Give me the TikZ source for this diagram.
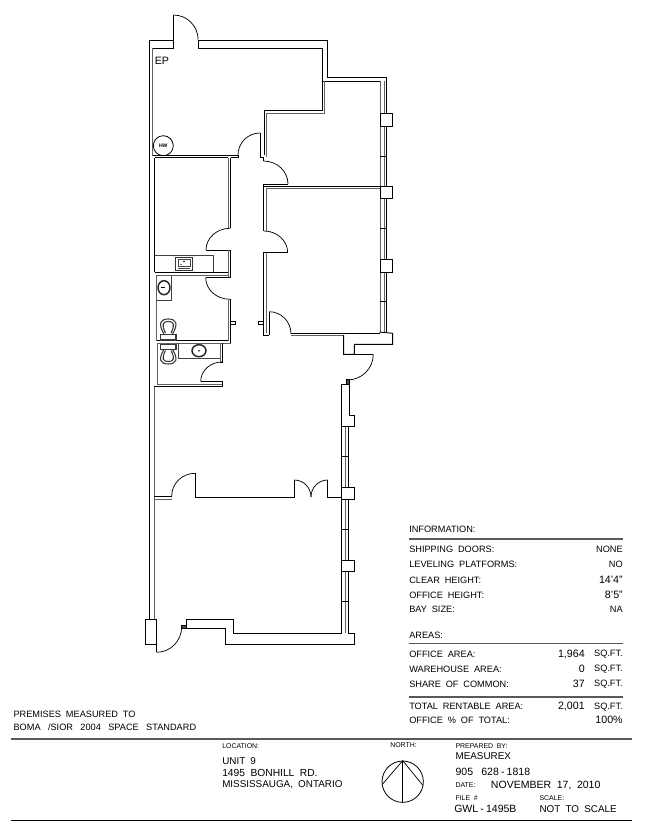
\documentclass[tikz,border=0pt]{standalone}
\usepackage{fontspec}
\setmainfont[WordSpace=1.9]{Liberation Sans}
\tikzset{
    wall/.style={line width=0.7pt},
    graywall/.style={line width=0.75pt, color=black!62},
    door/.style={line width=0.55pt},
    fixture/.style={line width=0.6pt, color=black!75},
    bowl/.style={line width=0.8pt, color=black!78},
    basin/.style={line width=1.1pt, color=black!85},
    pier/.style={line width=0.6pt, fill=white},
    rule/.style={line width=0.8pt, color=black!65},
    tag/.style={inner sep=0pt, anchor=west, font=\fontsize{6.9}{8}\selectfont},
    val/.style={inner sep=0pt, anchor=east, font=\fontsize{6.9}{8}\selectfont},
    digits/.style={inner sep=0pt, anchor=east, font=\fontsize{8}{9}\selectfont},
    big/.style={inner sep=0pt, anchor=west, font=\fontsize{7.4}{9}\selectfont},
    bigger/.style={inner sep=0pt, anchor=west, font=\fontsize{7.9}{9}\selectfont},
    tiny/.style={inner sep=0pt, anchor=west, font=\fontsize{5.2}{6}\selectfont},
}
\begin{document}
\begin{tikzpicture}[x=0.75pt, y=-0.75pt]
    \useasboundingbox (0,0) rectangle (646,829);

    % outer shell
    \draw[wall] (173.5,48) -- (173.5,40) -- (149.3,40) -- (149.3,619);
    \draw[wall] (173.5,15) -- (173.5,48);
    \draw[wall] (198.3,48) -- (198.3,40) -- (327,40) -- (327,77) -- (386.7,77) -- (386.7,82);
    \draw[wall] (152.7,48) -- (173.5,48);
    \draw[wall] (198.3,48) -- (322.5,48) -- (322.5,110.5) -- (264,110.5) -- (264,155);
    \draw[graywall] (152.7,48) -- (152.7,155.5);
    \draw[wall] (322.5,81) -- (380,81);
    \draw[graywall] (324.5,81) -- (324.5,113) -- (266,113) -- (266,157);
    \draw[door] (173.5,15) arc[start angle=-90, end angle=0, radius=24.6];
    \node[inner sep=0pt, anchor=west, font=\fontsize{8}{9}\selectfont] (ep) at (154.5,61) {EP};
    \node[draw, circle, minimum size=15pt, inner sep=0pt, line width=0.6pt, font=\fontsize{3.8}{4}\bfseries\selectfont] (hw) at (163.3,145.7) {HW};

    % east windows, upper part
    \draw[graywall] (380,81) -- (380,333);
    \draw[graywall] (384,81) -- (384,332);
    \draw[wall] (386.7,81) -- (386.7,332);
    \draw[wall] (380,156) -- (386.7,156);
    \draw[wall] (380,228.5) -- (386.7,228.5);
    \draw[wall] (380,301) -- (386.7,301);
    \draw[pier] (380,113.3) rectangle (392.7,126);
    \draw[pier] (380,186) rectangle (392.7,198.3);
    \draw[pier] (380,259.5) rectangle (392.7,272);

    % corridor walls and doors
    \draw[wall] (153,155.3) -- (238,155.3);
    \draw[wall] (154.7,157.7) -- (228.3,157.7);
    \draw[wall] (230.7,157.7) -- (238,157.7) -- (238,155.3);
    \draw[wall] (260,133) -- (260,157) -- (264,157);
    \draw[door] (238,155) arc[start angle=180, end angle=270, radius=22];
    \draw[wall] (263.5,157) -- (263.5,161);
    \draw[door] (263.5,161) arc[start angle=-90, end angle=0, x radius=24.5, y radius=23];
    \draw[wall] (288,184) -- (263.5,184) -- (263.5,231);
    \draw[wall] (264,186) -- (380,186);
    \draw[graywall] (266,188.3) -- (380,188.3);
    \draw[graywall] (266,188.3) -- (266,231);
    \draw[door] (264,231) arc[start angle=-90, end angle=0, x radius=23.7, y radius=21.7];
    \draw[wall] (287.7,252.7) -- (263.3,252.7) -- (263.3,335) -- (269.3,335);
    \draw[graywall] (266,252.7) -- (266,333);
    \draw[wall] (269.3,311.7) -- (269.3,335);
    \draw[door] (269.3,311.7) arc[start angle=-90, end angle=0, x radius=21.7, y radius=22.3];
    \draw[wall] (263.3,321.3) -- (258.7,321.3) -- (258.7,324.3) -- (263.3,324.3);
    \draw[wall] (291,333.5) -- (380,333.5);
    \draw[graywall] (291,335.3) -- (343.5,335.3);

    % storage room and counter
    \draw[graywall] (228.3,157.7) -- (228.3,228.3);
    \draw[wall] (230.7,157.7) -- (230.7,228.3);
    \draw[door] (230,228.3) arc[start angle=-90, end angle=-180, x radius=24, y radius=21.7];
    \draw[wall] (206,250) -- (230.7,250) -- (230.7,277.7);
    \draw[graywall] (228.3,250) -- (228.3,277.7);
    \draw[wall] (154.7,157.7) -- (154.7,272.3);
    \draw[fixture] (154.7,255) -- (213.3,255) -- (213.3,272.3);
    \draw[wall] (154.7,272.3) -- (228.3,272.3);
    \draw[graywall] (156.3,275.7) -- (228.3,275.7);
    \draw[line width=1pt, color=black!80] (175.7,257.3) rectangle (192.3,270.7);
    \draw[fixture] (178,259.5) rectangle (190,266.5);
    \draw[fixture] (178,268.5) -- (190,268.5);
    \fill (184,261.5) circle (0.8);
    \fill (181,264.5) circle (0.7);

    % washroom
    \draw[door] (205.7,277.7) arc[start angle=180, end angle=90, x radius=24.3, y radius=21.6];
    \draw[wall] (205.7,277.7) -- (230.7,277.7);
    \draw[wall] (230,299.3) -- (230.7,299.3) -- (230.7,343.3);
    \draw[graywall] (228.3,299.3) -- (228.3,341);
    \draw[wall] (230.7,321.3) -- (235,321.3) -- (235,324.7) -- (230.7,324.7);
    \draw[graywall] (156.3,275.7) -- (156.3,341);
    \draw[fixture] (156.3,300.3) -- (171.7,300.3) -- (171.7,275.7);
    \draw[basin] (164,287.7) ellipse (6 and 7);
    \draw[wall] (161,287.7) -- (165,287.7);
    \draw[wall] (157,340.7) -- (228.3,340.7);
    \draw[graywall] (157,343.3) -- (230.7,343.3);

    % toilets
    \draw[bowl, fill=white] (160.7,334.3) rectangle (176,340);
    \draw[bowl] (164,334) .. controls (158,324) and (160,319) .. (168.3,319) .. controls (176.5,319) and (178.5,324) .. (172.5,334);
    \draw[bowl] (165.5,333) .. controls (161,324) and (163,321.5) .. (168.3,321.5) .. controls (173.5,321.5) and (175.5,324) .. (171,333);
    \draw[bowl, fill=white] (160.7,344.3) rectangle (176,349.3);
    \draw[bowl] (164,349.5) .. controls (158,359) and (160,364) .. (168.3,364) .. controls (176.5,364) and (178.5,359) .. (172.5,349.5);
    \draw[bowl] (165.5,350.5) .. controls (161,359) and (163,361.5) .. (168.3,361.5) .. controls (173.5,361.5) and (175.5,359) .. (171,350.5);

    % lower washroom
    \draw[graywall] (157.3,343.3) -- (157.3,384.3);
    \draw[fixture] (178.3,343.3) -- (178.3,358.3) -- (220,358.3);
    \draw[graywall] (220,343.3) -- (220,362);
    \draw[wall] (222.3,343.3) -- (222.3,362) -- (220,362);
    \draw[basin] (199,350.7) ellipse (7 and 6);
    \fill (199,350.7) circle (0.8);
    \draw[door] (222,362) arc[start angle=-90, end angle=-180, x radius=21.3, y radius=19.5];
    \draw[wall] (200.7,381.5) -- (222.3,381.5) -- (222.3,386.7);
    \draw[graywall] (157.3,384.3) -- (222.3,384.3);
    \draw[wall] (154,386.7) -- (222.3,386.7);
    \draw[graywall] (154,386.7) -- (154,619);

    % entrance on the east side
    \draw[wall] (379.3,332) -- (392.7,333.3) -- (392.7,344.3) -- (354.3,344.3) -- (354.3,354.3) -- (343.7,354.3) -- (343.7,335);
    \draw[wall] (354.3,354.3) -- (373.3,354.3);
    \draw[door] (373.3,354.3) arc[start angle=0, end angle=90, x radius=26, y radius=25.7];
    \draw[wall, fill=black!70] (346.7,379.3) rectangle (349.3,384.3);
    \draw[wall] (341.7,384.3) -- (349.3,384.3) -- (349.3,415) -- (354.3,415) -- (354.3,426.7) -- (341.7,426.7) -- (341.7,384.3);

    % east windows, lower part
    \draw[wall] (341.7,426.7) -- (341.7,633.3);
    \draw[graywall] (345.7,426.7) -- (345.7,633.3);
    \draw[wall] (348,426.7) -- (348,633.3);
    \draw[wall] (341.7,456.7) -- (348,456.7);
    \draw[wall] (341.7,529.3) -- (348,529.3);
    \draw[wall] (341.7,601.7) -- (348,601.7);
    \draw[pier] (341.7,487.7) rectangle (354.3,499.3);
    \draw[pier] (341.7,560) rectangle (354.3,571.7);

    % partition with the double door
    \draw[wall] (154,496) -- (171.7,496);
    \draw[graywall] (154,499.3) -- (171.7,499.3);
    \draw[door] (171.7,496) arc[start angle=180, end angle=270, x radius=23.3, y radius=22.7];
    \draw[wall] (195,473.3) -- (195,497.5) -- (294.3,497.5) -- (294.3,480);
    \draw[door] (294.3,480) arc[start angle=-90, end angle=0, x radius=16.7, y radius=17];
    \draw[door] (327.7,480) arc[start angle=-90, end angle=-180, x radius=16.7, y radius=17];
    \draw[wall] (327.7,480) -- (327.7,497.5) -- (341.7,497.5);

    % south end
    \draw[pier] (145,619) rectangle (156.7,644.3);
    \draw[door] (156.7,628) -- (156.7,652.3);
    \draw[door] (156.7,652.3) arc[start angle=90, end angle=0, x radius=25, y radius=25.6];
    \draw[wall, fill=black!70] (181.7,625) rectangle (186.7,628);
    \draw[wall] (186.7,628.3) -- (186.7,619.3) -- (233.3,619.3) -- (233.3,633.3) -- (341.7,633.3);
    \draw[wall] (348,633.3) -- (354.3,633.3) -- (354.3,644.3) -- (225,644.3) -- (225,628.3) -- (186.7,628.3);

    % information table
    \node[tag] (infohead) at (409,529.7) {INFORMATION:};
    \draw[rule] (409,539) -- (623,539);
    \node[tag] (shipping) at (409,549.3) {SHIPPING DOORS:};
    \node[val] (shippingval) at (623,549.3) {NONE};
    \node[tag] (leveling) at (409,564.3) {LEVELING PLATFORMS:};
    \node[val] (levelingval) at (623,564.3) {NO};
    \node[tag] (clear) at (409,580) {CLEAR HEIGHT:};
    \node[digits] (clearval) at (623,580) {14'4"};
    \node[tag] (officeh) at (409,595.3) {OFFICE HEIGHT:};
    \node[digits] (officehval) at (623,595.3) {8'5"};
    \node[tag] (bay) at (409,609.3) {BAY SIZE:};
    \node[val] (bayval) at (623,609.3) {NA};
    \node[tag] (areashead) at (409,635.7) {AREAS:};
    \draw[rule] (409,643.7) -- (623,643.7);
    \node[tag] (officea) at (409,654.3) {OFFICE AREA:};
    \node[digits] (officeanum) at (585,654.3) {1,964};
    \node[val] (officeaval) at (623,654.3) {SQ.FT.};
    \node[tag] (whouse) at (409,669.3) {WAREHOUSE AREA:};
    \node[digits] (whousenum) at (585,669.3) {0};
    \node[val] (whouseval) at (623,669.3) {SQ.FT.};
    \node[tag] (share) at (409,684.3) {SHARE OF COMMON:};
    \node[digits] (sharenum) at (585,684.3) {37};
    \node[val] (shareval) at (623,684.3) {SQ.FT.};
    \draw[rule] (409,697) -- (623,697);
    \node[tag] (total) at (409,706.7) {TOTAL RENTABLE AREA:};
    \node[digits] (totalnum) at (585,706.7) {2,001};
    \node[val] (totalval) at (623,706.7) {SQ.FT.};
    \node[tag] (percent) at (409,720.3) {OFFICE \% OF TOTAL:};
    \node[digits] (percentval) at (623,720.3) {100\%};

    % title block
    \node[tag] (premises) at (13.3,714) {PREMISES MEASURED TO};
    \node[tag] (boma) at (13.3,727.3) {BOMA\hspace{1.9pt} /SIOR\hspace{1.9pt} 2004\hspace{1.9pt} SPACE\hspace{1.9pt} STANDARD};
    \draw[rule] (11,739) -- (632,739);
    \draw[line width=0.7pt] (11,820) -- (632,820);
    \node[tiny] (location) at (222,746) {LOCATION:};
    \node[big] (unit) at (222,761) {UNIT 9};
    \node[font=\fontsize{7.7}{9}\selectfont, inner sep=0pt, anchor=west] (street) at (222,772.7) {1495 BONHILL RD.};
    \node[big] (city) at (222,785) {MISSISSAUGA, ONTARIO};
    \node[tiny] (north) at (390,745) {NORTH:};
    \node[draw, circle, line width=0.6pt, minimum size=31pt, inner sep=0pt] (compass) at (402.7,781.7) {};
    \draw[door] (compass.south) -- (compass.north);
    \draw[door] (compass.west) ++(0.8,2.5) -- (compass.north) -- (423,785.5);
    \node[tiny] (prepared) at (455.3,746) {PREPARED BY:};
    \node[big] (measurex) at (455.3,756) {MEASUREX};
    \node[bigger] (phone) at (455.3,771.7) {905\hspace{2pt} 628\hspace{1.6pt}-\hspace{1.6pt}1818};
    \node[tiny] (datetag) at (455.3,785) {DATE:};
    \node[bigger] (dateval) at (490.7,785) {NOVEMBER 17, 2010};
    \node[tiny] (filetag) at (455.3,798.3) {FILE \#};
    \node[tiny] (scaletag) at (539.3,798.3) {SCALE:};
    \node[bigger] (fileval) at (454,809.3) {GWL\hspace{1.6pt}-\hspace{1.6pt}1495B};
    \node[big] (scaleval) at (539.3,809.3) {NOT TO SCALE};
\end{tikzpicture}
\end{document}
